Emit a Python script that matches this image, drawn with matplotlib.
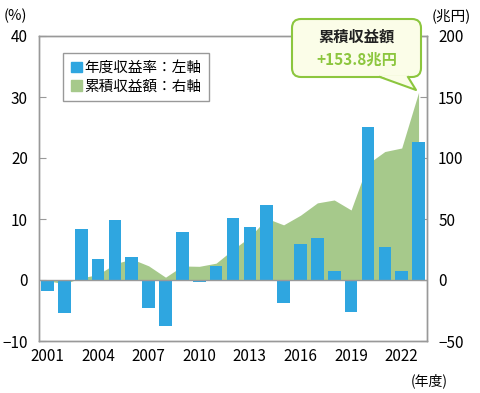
import matplotlib
matplotlib.use('Agg')
import matplotlib.pyplot as plt
from matplotlib.patches import Patch, FancyBboxPatch, Polygon
from matplotlib.transforms import IdentityTransform

plt.rcParams['font.family'] = ['Noto Sans CJK JP', 'DejaVu Sans']

years = list(range(2001, 2024))
# 年度収益率 (%)
rates = [-1.80, -5.36, 8.40, 3.39, 9.88, 3.70, -4.59, -7.57, 7.91, -0.25, 2.32, 10.23,
         8.64, 12.27, -3.81, 5.86, 6.90, 1.52, -5.20, 25.15, 5.42, 1.50, 22.67]
# 累積収益額 (兆円)
cumulative = [-0.6, -3.1, 1.8, 4.4, 13.3, 17.2, 11.6, 2.3, 11.5, 11.2, 13.8, 25.0,
              35.3, 50.5, 45.2, 53.1, 63.2, 65.6, 57.4, 95.3, 105.3, 108.2, 153.8]
xticks = [2001, 2004, 2007, 2010, 2013, 2016, 2019, 2022]

blue = '#2fa6e0'
green = '#a6c98b'
gray = '#999999'
lime = '#8cc63e'

W, H = 480, 393
fig = plt.figure(figsize=(W / 100, H / 100), dpi=100)
ax = fig.add_axes([39 / W, 1 - 341 / H, (427 - 39) / W, (341 - 36) / H])
ax2 = ax.twinx()
ax.set_zorder(ax2.get_zorder() + 1)
ax.patch.set_visible(False)

ax2.fill_between(years, 0, cumulative, color=green, lw=0)
ax.bar(years, rates, width=0.75, color=blue)
ax.axhline(0, color=gray, lw=1)

ax.set_xlim(2000.5, 2023.5)
ax.set_ylim(-10, 40)
ax2.set_ylim(-50, 200)
ax.set_yticks([-10, 0, 10, 20, 30, 40])
ax2.set_yticks([-50, 0, 50, 100, 150, 200])
ax.set_xticks(xticks)

for a in (ax, ax2):
    for s in a.spines.values():
        s.set_color(gray)
        s.set_linewidth(1)
ax.tick_params(axis='y', direction='in', length=5, color=gray, labelsize=11, pad=8)
ax2.tick_params(axis='y', direction='in', length=5, color=gray, labelsize=11, pad=8)
ax.tick_params(axis='x', length=0, labelsize=11, pad=5)

fig.text(4 / W, 1 - 16 / H, '(%)', fontsize=10.5, va='center')
fig.text(432 / W, 1 - 16 / H, '(兆円)', fontsize=10.5, va='center')
fig.text(411 / W, 1 - 381 / H, '(年度)', fontsize=10, va='center')

handles = [Patch(color=blue, label='年度収益率：左軸'),
           Patch(color=green, label='累積収益額：右軸')]
leg = ax.legend(handles=handles, loc='upper left', bbox_to_anchor=(24 / 388, 1 - 17 / 305),
                fontsize=10.5, handlelength=0.75, handleheight=0.75, handletextpad=0.15,
                borderpad=0.55, labelspacing=0.3, borderaxespad=0,
                fancybox=False, framealpha=1)
leg.get_frame().set_edgecolor(gray)
leg.get_frame().set_linewidth(1)

# 吹き出し (pixel coordinates, y from bottom)
tr = IdentityTransform()
x0, x1, yt, yb = 292, 421, H - 19, H - 77
box = FancyBboxPatch((x0, yb), x1 - x0, yt - yb, boxstyle='round,pad=0,rounding_size=9',
                     transform=tr, facecolor='#fbfde8', edgecolor=lime, lw=1.5, zorder=10)
fig.patches.append(box)
tip = (416, H - 90)
base = [(380, yb + 1), (408, yb + 1)]
ptr = Polygon([base[0], tip, base[1]], closed=True, transform=tr,
              facecolor='#fbfde8', edgecolor='none', zorder=11)
fig.patches.append(ptr)
fig.lines.append(plt.Line2D([base[0][0], tip[0], base[1][0]], [yb, tip[1], yb],
                            transform=tr, color=lime, lw=1.5, zorder=12))
fig.text((x0 + x1) / 2 / W, 1 - 37 / H, '累積収益額', fontsize=11, fontweight='bold',
         ha='center', va='center', color='#222222', zorder=13)
fig.text((x0 + x1) / 2 / W, 1 - 60 / H, '+153.8兆円', fontsize=11, fontweight='bold',
         ha='center', va='center', color=lime, zorder=13)

fig.savefig('out.png', dpi=100)
